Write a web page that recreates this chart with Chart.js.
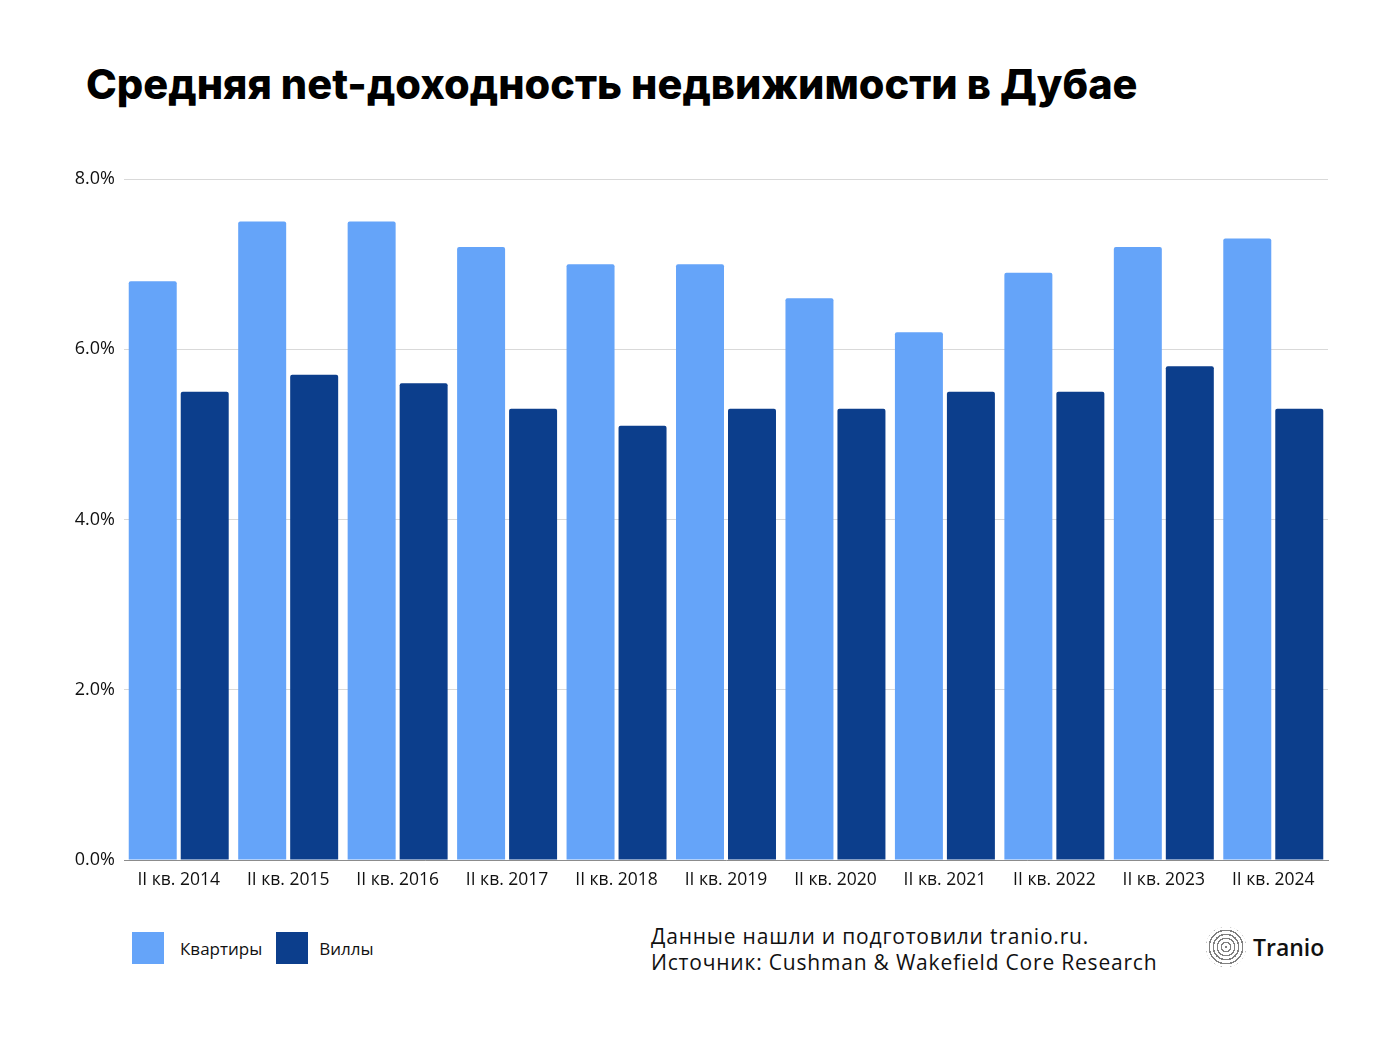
<!DOCTYPE html>
<html lang="ru">
<head>
<meta charset="utf-8">
<script src="https://cdn.jsdelivr.net/npm/chart.js@4"></script>
<style>
  body { margin: 0; background: #fff; font-family: "Open Sans", sans-serif; }
  .page { position: relative; width: 1386px; height: 1040px; overflow: hidden; }
  h1 { position: absolute; left: 86px; top: 59px; margin: 0; font-family: Inter, sans-serif; font-weight: 800; font-size: 41.5px; color: #000; }
  .chart-box { position: absolute; left: 0; top: 150px; width: 1386px; height: 760px; }
  .legend { position: absolute; left: 132px; top: 932px; display: flex; align-items: center; font-size: 17px; color: #111; }
  .legend .box { width: 32px; height: 32px; margin-right: 16px; }
  .legend .item { display: flex; align-items: center; margin-right: 14px; }
  .legend .item + .item .box { margin-right: 11px; }
  .source { position: absolute; left: 651px; top: 923px; font-size: 21px; line-height: 26px; letter-spacing: 0.8px; color: #111; }
  .logo { position: absolute; left: 1206px; top: 927px; display: flex; align-items: center; }
  .logo .mark { width: 40px; height: 40px; border-radius: 50%;
    background: repeating-radial-gradient(circle at 50% 50%, #555 0 1.5px, #fff 1.5px 4px); opacity: 0.75; }
  .logo span { margin-left: 7px; font-size: 23px; font-weight: 600; color: #111; }
</style>
</head>
<body>
<div class="page">
  <h1>Средняя net-доходность недвижимости в Дубае</h1>
  <div class="chart-box"><canvas id="yield-chart"></canvas></div>
  <div class="legend" id="legend"></div>
  <div class="source">Данные нашли и подготовили tranio.ru.<br>Источник: Cushman &amp; Wakefield Core Research</div>
  <div class="logo"><div class="mark"></div><span>Tranio</span></div>
</div>
<script>
const quarters = ["II кв. 2014", "II кв. 2015", "II кв. 2016", "II кв. 2017", "II кв. 2018",
  "II кв. 2019", "II кв. 2020", "II кв. 2021", "II кв. 2022", "II кв. 2023", "II кв. 2024"];
const apartments = [6.8, 7.5, 7.5, 7.2, 7.0, 7.0, 6.6, 6.2, 6.9, 7.2, 7.3];
const villas = [5.5, 5.7, 5.6, 5.3, 5.1, 5.3, 5.3, 5.5, 5.5, 5.8, 5.3];
const seriesNames = ["Квартиры", "Виллы"];
const seriesColors = ["#65a4f9", "#0c3e8c"];
const yTicks = [0, 2, 4, 6, 8];

// legend in html, so it can share the row with the source note
const legendEl = document.getElementById("legend");
seriesNames.forEach((name, i) => {
  const item = document.createElement("div");
  item.className = "item";
  item.innerHTML = `<div class="box" style="background:${seriesColors[i]}"></div>${name}`;
  legendEl.appendChild(item);
});

new Chart(document.getElementById("yield-chart"), {
  type: "bar",
  data: {
    labels: quarters,
    datasets: [
      { label: seriesNames[0], data: apartments, backgroundColor: seriesColors[0] },
      { label: seriesNames[1], data: villas, backgroundColor: seriesColors[1] },
    ],
  },
  options: {
    responsive: true,
    maintainAspectRatio: false,
    animation: false,
    categoryPercentage: 0.95,
    barPercentage: 0.923,
    borderRadius: { topLeft: 2, topRight: 2 },
    borderSkipped: "bottom",
    layout: { padding: { left: 0, right: 58, top: 29, bottom: 10 } },
    plugins: { legend: { display: false }, tooltip: { enabled: false } },
    scales: {
      x: {
        grid: { display: false },
        border: { display: true, color: "#8c8c8c", width: 1 },
        ticks: { font: { family: "'Open Sans', sans-serif", size: 17.5 }, color: "#111", padding: 2, maxRotation: 0 },
        afterFit: (scale) => { scale.height = 40; },
      },
      y: {
        min: 0,
        max: 8,
        afterBuildTicks: (scale) => { scale.ticks = yTicks.map((v) => ({ value: v })); },
        grid: { color: "#d9d9d9", drawTicks: false },
        border: { display: false },
        ticks: {
          font: { family: "'Open Sans', sans-serif", size: 18 },
          color: "#111",
          padding: 9,
          callback: (v) => v.toFixed(1) + "%",
        },
        afterFit: (scale) => { scale.width = 124; },
      },
    },
  },
});
</script>
</body>
</html>
